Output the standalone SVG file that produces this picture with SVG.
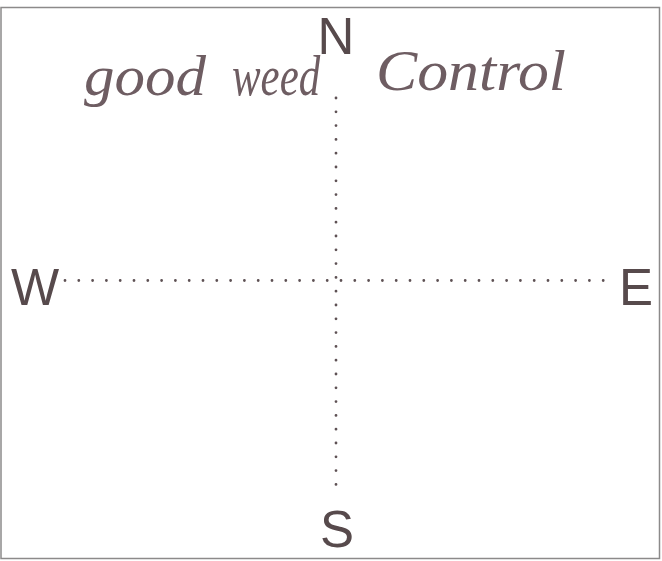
<svg xmlns="http://www.w3.org/2000/svg" width="662" height="561" viewBox="0 0 662 561">
<style>
.lbl{font-family:"Liberation Sans",Arial,sans-serif;font-size:51px;fill:#574a4c}
.hand{font-family:"Liberation Serif","DejaVu Serif",serif;font-style:italic;font-size:58px;fill:#6e5d62}
.dot{stroke:#5e5154;stroke-width:2.8;stroke-linecap:round;stroke-dasharray:0 13.8;fill:none}
</style>
<rect x="1" y="7.5" width="658.5" height="551" fill="#ffffff" stroke="#8c8a8a" stroke-width="1.5"/>
<g id="connectors">
<path class="dot" d="M336 98 V493"/>
<path class="dot" d="M65 280.5 H614"/>
</g>
<g id="note">
<text class="hand" x="84" y="95" textLength="122" lengthAdjust="spacingAndGlyphs">good</text>
<text class="hand" transform="translate(232,95) scale(0.74,1)" font-size="52">weed</text>
<text class="hand" x="376" y="90" textLength="190" lengthAdjust="spacingAndGlyphs">Control</text>
</g>
<g id="N"><text class="lbl" x="336" y="54" text-anchor="middle">N</text></g>
<g id="W"><text class="lbl" x="35" y="305" text-anchor="middle">W</text></g>
<g id="E"><text class="lbl" x="636" y="305" text-anchor="middle">E</text></g>
<g id="S"><text class="lbl" x="337" y="547" text-anchor="middle">S</text></g>
</svg>
